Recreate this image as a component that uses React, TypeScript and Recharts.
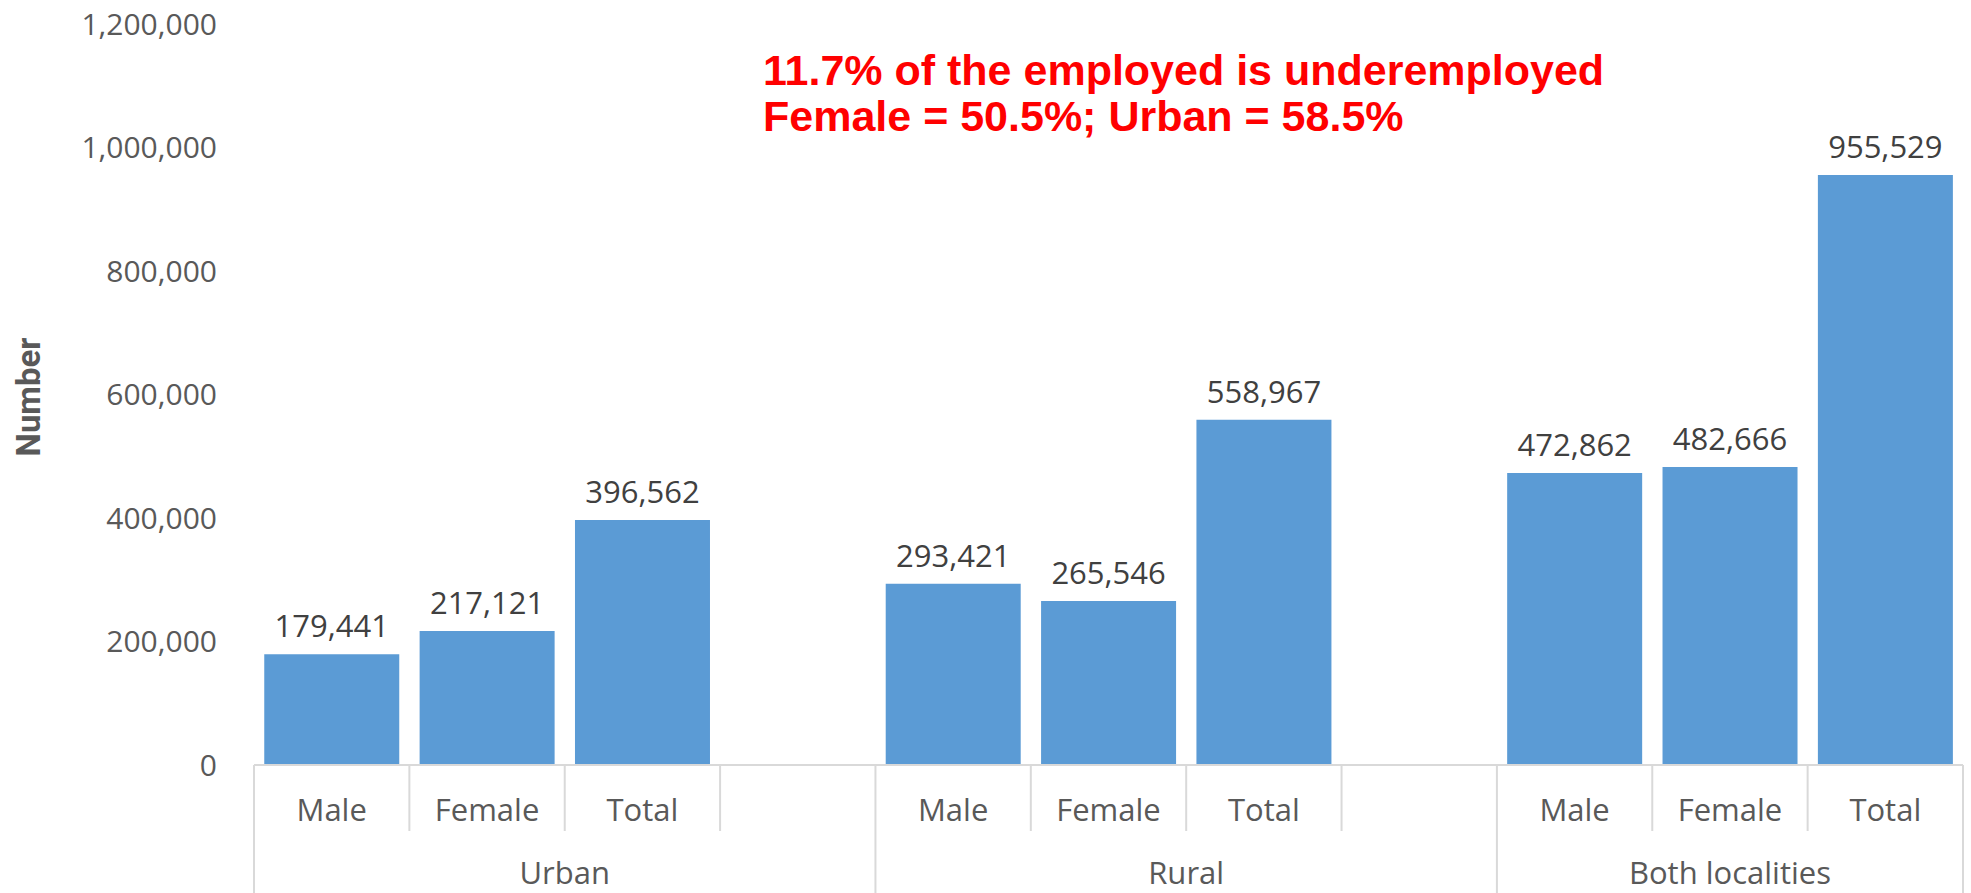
import React from 'react';
import { BarChart, Bar, XAxis, YAxis, LabelList } from 'recharts';

const groups = ['Urban', 'Rural', 'Both localities'];
const sexes = ['Male', 'Female', 'Total'];
const urbanValues = [179441, 217121, 396562];
const ruralValues = [293421, 265546, 558967];
const bothValues = [472862, 482666, 955529];
const yTicks = [0, 200000, 400000, 600000, 800000, 1000000, 1200000];

const W = 1971;
const H = 893;
const LEFT = 254;
const RIGHT = 8;
const TOP = 24;
const XAXIS_H = 128;

type Row = { key: string; sub: string; group: string; value: number | null; first: boolean; span: number };

const groupValues = [urbanValues, ruralValues, bothValues];
const rows: Row[] = [];
groups.forEach((g, gi) => {
  const last = gi === groups.length - 1;
  const span = last ? sexes.length : sexes.length + 1;
  sexes.forEach((s, si) => {
    rows.push({ key: `${gi}-${si}`, sub: s, group: g, value: groupValues[gi][si], first: si === 0, span });
  });
  // empty slot between groups
  if (!last) rows.push({ key: `${gi}-gap`, sub: '', group: g, value: null, first: false, span });
});

const SLOT = (W - LEFT - RIGHT) / rows.length;
const GRID = '#d9d9d9';
const FONT = '"Open Sans", sans-serif';
const fmt = (v: number) => v.toLocaleString('en-US');

function CatTick({ x, y, index }: any) {
  const row = rows[index];
  if (!row) return null;
  const left = x - SLOT / 2;
  return (
    <g>
      <line x1={left} x2={left} y1={y} y2={row.first ? H : y + 66} stroke={GRID} strokeWidth={2} />
      {index === rows.length - 1 && (
        <line x1={x + SLOT / 2} x2={x + SLOT / 2} y1={y} y2={H} stroke={GRID} strokeWidth={2} />
      )}
      {row.sub && (
        <text x={x} y={y + 56} textAnchor="middle" fontSize={31} fontFamily={FONT} fill="#595959">{row.sub}</text>
      )}
      {row.first && (
        <text x={left + (row.span * SLOT) / 2} y={y + 119} textAnchor="middle" fontSize={31} fontFamily={FONT} fill="#595959">
          {row.group}
        </text>
      )}
    </g>
  );
}

export default function App() {
  return (
    <div style={{ position: 'absolute', left: 0, top: 0, width: W, height: H, background: '#fff' }}>
      <BarChart
        width={W}
        height={H}
        data={rows}
        margin={{ top: TOP, right: RIGHT, left: 0, bottom: 0 }}
        barCategoryGap="6.6%"
      >
        <XAxis
          dataKey="key"
          height={XAXIS_H}
          interval={0}
          tickSize={0}
          tickMargin={0}
          tickLine={false}
          axisLine={{ stroke: GRID, strokeWidth: 2 }}
          tick={<CatTick />}
        />
        <YAxis
          width={LEFT}
          domain={[0, 1200000]}
          ticks={yTicks}
          tickFormatter={fmt}
          axisLine={false}
          tickLine={false}
          tickSize={0}
          tickMargin={37}
          tick={{ fontSize: 30, fontFamily: FONT, fill: '#595959' }}
        />
        <Bar dataKey="value" fill="#5b9bd5" isAnimationActive={false}>
          <LabelList
            dataKey="value"
            position="top"
            offset={17}
            formatter={(v: any) => (v == null ? '' : fmt(v))}
            style={{ fontSize: 31, fontFamily: FONT, fill: '#404040' }}
          />
        </Bar>
      </BarChart>
      <svg width={W} height={H} style={{ position: 'absolute', left: 0, top: 0, pointerEvents: 'none' }}>
        <text
          transform="translate(28,397) rotate(-90)"
          textAnchor="middle"
          dominantBaseline="central"
          fontSize={33}
          fontWeight="bold"
          fontFamily="Roboto, sans-serif"
          fill="#595959"
        >
          Number
        </text>
        <g fontFamily='"Liberation Sans", Arial, sans-serif' fontWeight="bold" fontSize={43} fill="#ff0000">
          <text x={763} y={85}>11.7% of the employed is underemployed</text>
          <text x={763} y={131}>Female = 50.5%; Urban = 58.5%</text>
        </g>
      </svg>
    </div>
  );
}
